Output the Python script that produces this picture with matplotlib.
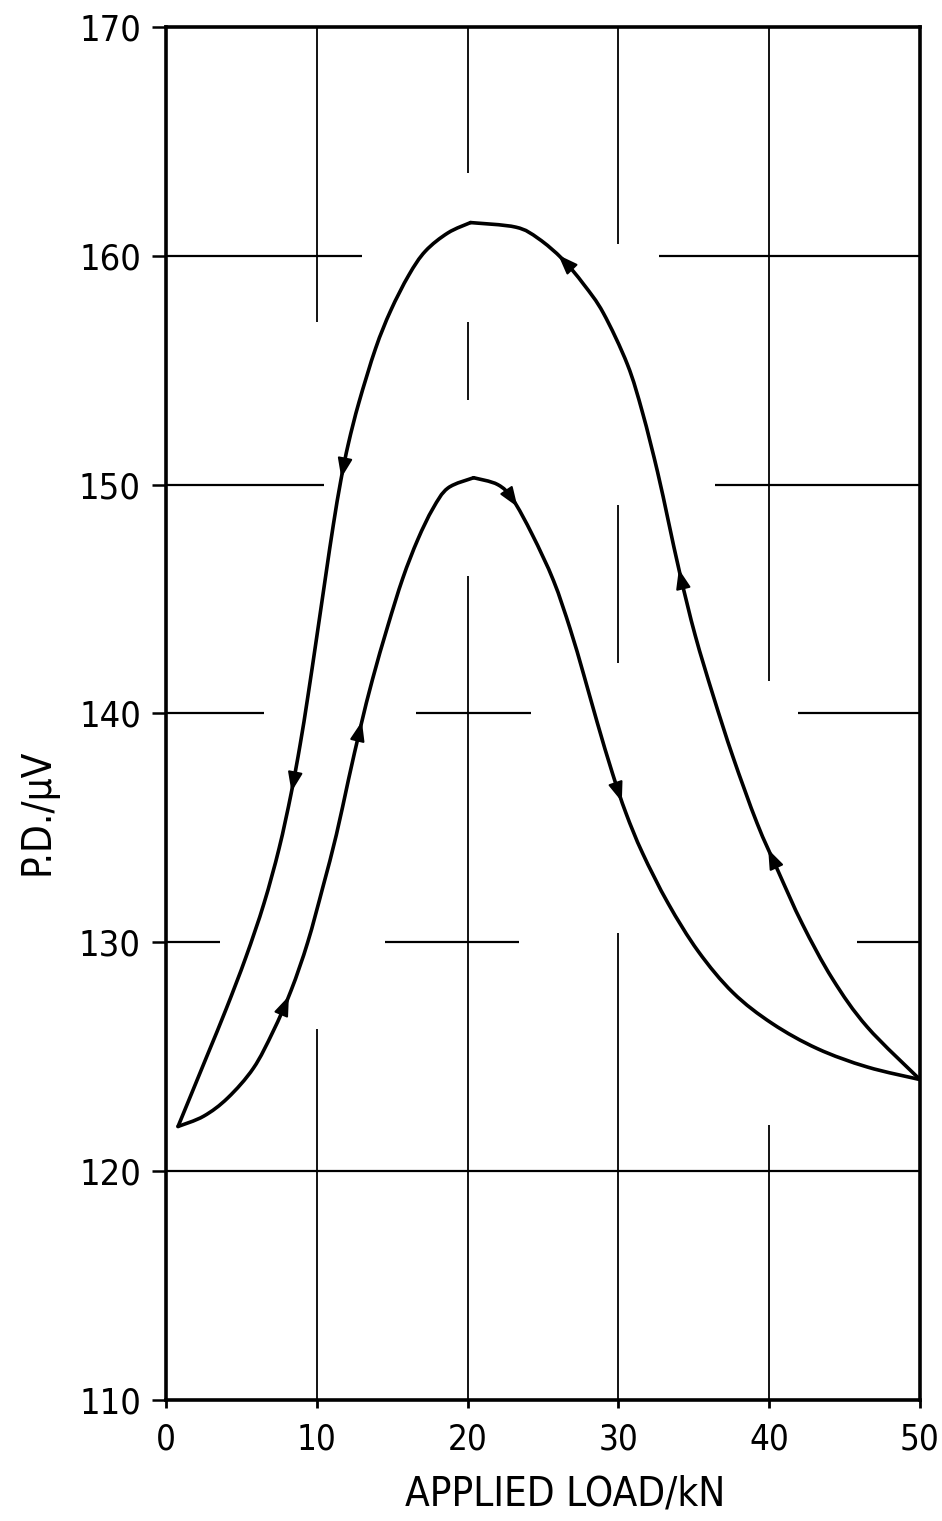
import numpy as np
import matplotlib
matplotlib.use("Agg")
import matplotlib.pyplot as plt
from matplotlib.path import Path
from matplotlib.patches import PathPatch

# Outer loop: rising branch (load falling from 50 kN) and falling branch
outer_up_load = [50.0, 46.5, 44.2, 42.2, 40.6, 39.2, 37.6, 36.3, 35.1, 34.1,
                 33.3, 32.6, 31.6, 30.6, 29.0, 27.7, 26.3, 24.7, 23.2, 20.2]
outer_up_pd = [124.0, 126.3, 128.4, 130.8, 133.1, 135.2, 138.1, 140.75, 143.4, 146.05,
               148.45, 150.55, 153.15, 155.25, 157.5, 158.75, 159.85, 160.75, 161.25, 161.45]

outer_down_load = [20.2, 18.7, 17.2, 16.1, 14.9, 13.9, 12.8, 12.1, 11.6, 11.1,
                   10.6, 10.0, 9.4, 8.9, 8.3, 7.5, 6.5, 5.3, 4.0, 2.7, 0.8]
outer_down_pd = [161.45, 161.0, 160.2, 159.15, 157.6, 155.95, 153.6, 151.8, 150.2, 148.25,
                 146.05, 143.35, 140.7, 138.65, 136.5, 134.1, 131.7, 129.35, 127.1, 125.0, 121.95]

# Inner loop: rising branch from low load, falling branch back to 50 kN
inner_up_load = [0.8, 2.5, 4.1, 5.8, 7.1, 8.3, 9.4, 10.4, 11.3, 12.1,
                 12.9, 13.7, 14.7, 15.7, 16.7, 17.7, 18.7, 20.4]
inner_up_pd = [121.95, 122.4, 123.2, 124.5, 126.1, 127.9, 130.0, 132.4, 134.7, 137.1,
               139.4, 141.5, 143.8, 145.9, 147.6, 148.95, 149.85, 150.3]

inner_down_load = [20.4, 22.0, 23.0, 24.3, 25.7, 26.8, 27.7, 28.6, 29.6, 30.5,
                   31.6, 33.3, 35.3, 37.6, 40.2, 43.2, 46.5, 50.0]
inner_down_pd = [150.3, 150.0, 149.35, 147.8, 145.8, 143.7, 141.7, 139.6, 137.4, 135.65,
                 133.9, 131.7, 129.6, 127.8, 126.45, 125.35, 124.55, 124.0]

# Direction arrows: load value on each branch
arrows_outer_up = [26.3, 34.1, 40.1]
arrows_outer_down = [11.7, 8.4]
arrows_inner_up = [12.9, 8.0]
arrows_inner_down = [23.1, 30.1]

x_ticks = [0, 10, 20, 30, 40, 50]
y_ticks = [110, 120, 130, 140, 150, 160, 170]

# Hand-ruled grid pieces: (position, start, end)
v_grid = [(10, 157.1, 170), (10, 110, 126.2),
          (20, 163.6, 170), (20, 153.7, 157.1), (20, 110, 146.0),
          (30, 160.5, 170), (30, 142.2, 149.1), (30, 110, 130.4),
          (40, 141.4, 170), (40, 110, 122.0)]
h_grid = [(160, 0, 13.0), (160, 32.7, 50),
          (150, 0, 10.5), (150, 36.4, 50),
          (140, 0, 6.5), (140, 16.6, 24.2), (140, 41.9, 50),
          (130, 0, 3.6), (130, 14.5, 23.4), (130, 45.8, 50),
          (120, 0, 50)]

plt.rcParams['font.family'] = ['DejaVu Sans']

fig = plt.figure(figsize=(9.42, 15.21), dpi=100)
ax = fig.add_axes([0.1762, 0.0796, 0.8004, 0.9027])
ax.set_xlim(0, 50)
ax.set_ylim(110, 170)

for xv, y0, y1 in v_grid:
    ax.plot([xv, xv], [y0, y1], color='black', lw=1.3, solid_capstyle='butt', zorder=1)
for yv, x0, x1 in h_grid:
    ax.plot([x0, x1], [yv, yv], color='black', lw=1.6, solid_capstyle='butt', zorder=1)


def smooth_path(xs, ys):
    """Catmull-Rom curve through the points, as cubic Bezier segments."""
    p = np.column_stack([xs, ys]).astype(float)
    ext = np.vstack([p[0], p, p[-1]])
    verts = [p[0]]
    codes = [Path.MOVETO]
    for i in range(1, len(ext) - 2):
        p0, p1, p2, p3 = ext[i - 1], ext[i], ext[i + 1], ext[i + 2]
        verts += [p1 + (p2 - p0) / 6.0, p2 - (p3 - p1) / 6.0, p2]
        codes += [Path.CURVE4] * 3
    return Path(np.array(verts), codes)


def sample_path(path, n=24):
    v = path.vertices
    out = [v[0]]
    t = np.linspace(0, 1, n)[1:, None]
    for k in range(1, len(v), 3):
        a, b, c, d = v[k - 1], v[k], v[k + 1], v[k + 2]
        out.extend((1 - t) ** 3 * a + 3 * (1 - t) ** 2 * t * b
                   + 3 * (1 - t) * t ** 2 * c + t ** 3 * d)
    return np.array(out)


def add_arrow(curve, x_at, back_px=15):
    pts = ax.transData.transform(curve)
    seg = np.hypot(np.diff(pts[:, 0]), np.diff(pts[:, 1]))
    s = np.concatenate([[0], np.cumsum(seg)])
    xs = curve[:, 0]
    i = next(k for k in range(len(xs) - 1)
             if min(xs[k], xs[k + 1]) <= x_at <= max(xs[k], xs[k + 1]) and xs[k] != xs[k + 1])
    t = (x_at - xs[i]) / (xs[i + 1] - xs[i])
    s_tip = s[i] + t * seg[i] + 6
    s_tail = max(s_tip - back_px, 0)
    tip = [np.interp(s_tip, s, pts[:, 0]), np.interp(s_tip, s, pts[:, 1])]
    tail = [np.interp(s_tail, s, pts[:, 0]), np.interp(s_tail, s, pts[:, 1])]
    inv = ax.transData.inverted()
    ax.annotate('', xy=inv.transform(tip), xytext=inv.transform(tail),
                arrowprops=dict(arrowstyle='-|>,head_length=0.75,head_width=0.28',
                                color='black', lw=1.5, shrinkA=0, shrinkB=0,
                                mutation_scale=16),
                zorder=4)


branches = [
    (outer_up_load, outer_up_pd, arrows_outer_up),
    (outer_down_load, outer_down_pd, arrows_outer_down),
    (inner_up_load, inner_up_pd, arrows_inner_up),
    (inner_down_load, inner_down_pd, arrows_inner_down),
]

for xs, ys, arrs in branches:
    path = smooth_path(xs, ys)
    ax.add_patch(PathPatch(path, fill=False, edgecolor='black', lw=2.6,
                           joinstyle='round', capstyle='round', zorder=3))
    curve = sample_path(path)
    for xa in arrs:
        add_arrow(curve, xa)

for sp in ax.spines.values():
    sp.set_linewidth(2.6)

ax.set_xticks(x_ticks)
ax.set_yticks(y_ticks)
ax.tick_params(axis='y', direction='out', length=10, width=1.8, pad=8,
               labelsize=26)
ax.tick_params(axis='x', direction='out', length=6, width=2.0, pad=10,
               labelsize=25)
for lab in ax.get_xticklabels() + ax.get_yticklabels():
    lab.set_fontstretch('condensed')

ax.set_xlabel('APPLIED LOAD/kN', fontsize=29, fontstretch='condensed')
ax.xaxis.label.set_va('center')
ax.xaxis.set_label_coords(0.530, -0.069)
ax.set_ylabel('P.D./μV', fontsize=29, fontstretch='condensed')
ax.yaxis.label.set_va('center')
ax.yaxis.set_label_coords(-0.170, 0.428)

fig.savefig('out.png', dpi=100)
